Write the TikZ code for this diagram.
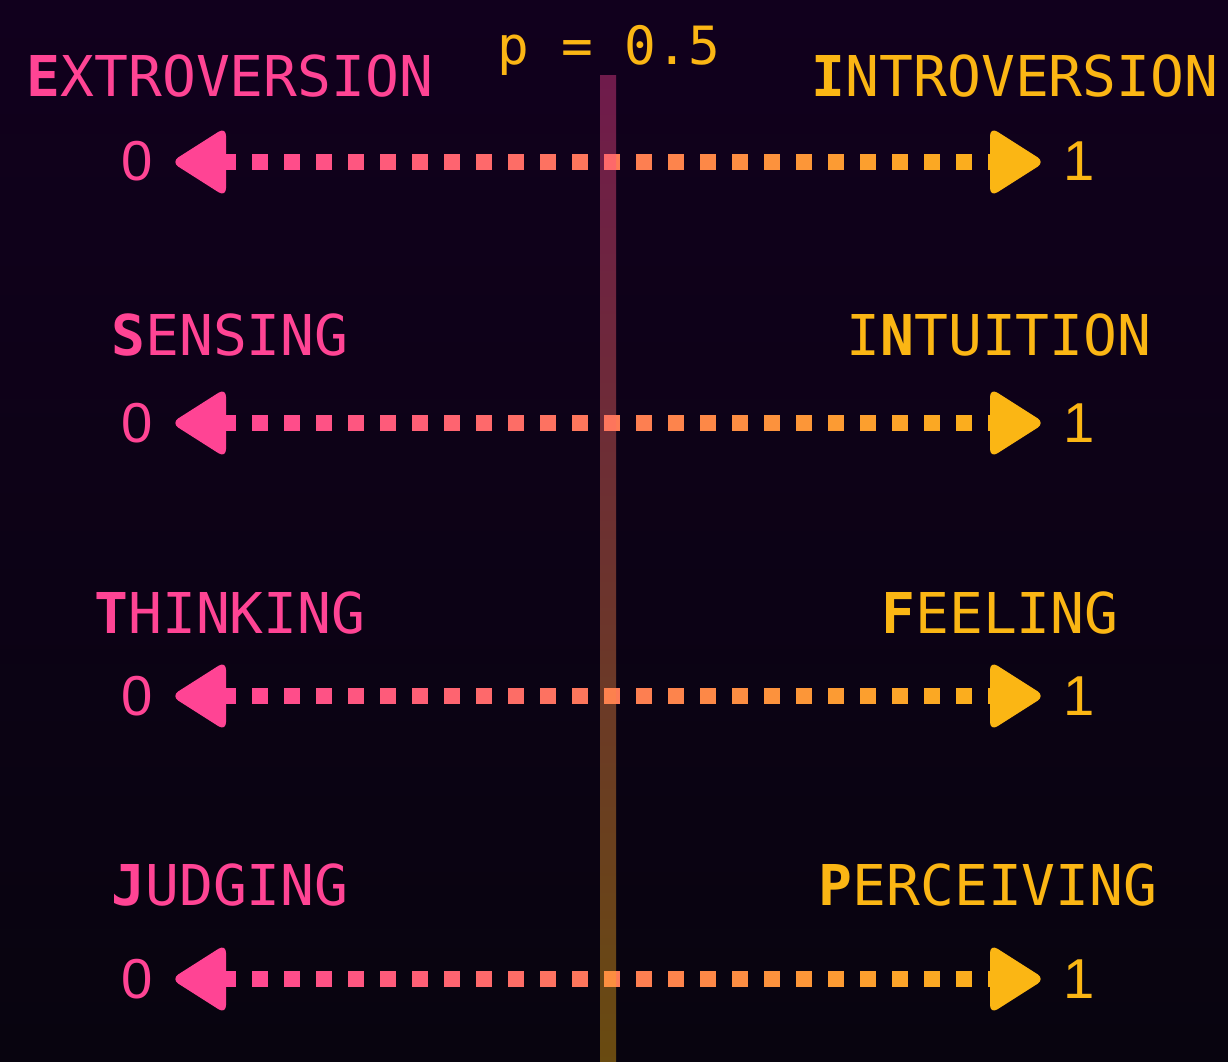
\documentclass[tikz,border=0pt]{standalone}
\usepackage{fontspec}
\usetikzlibrary{calc}
\newfontfamily\monofont{DejaVu Sans Mono}
\newfontfamily\numfont{Liberation Sans}
\definecolor{pinkc}{HTML}{FF4494}
\definecolor{yellowc}{HTML}{FBB614}
\definecolor{bgtop}{HTML}{11001D}
\definecolor{bgbot}{HTML}{08040F}

\begin{document}
\begin{tikzpicture}[x=0.01cm, y=-0.01cm,
    lefttxt/.style={text=pinkc, anchor=base, inner sep=0pt, font=\monofont\fontsize{16}{19}\selectfont},
    righttxt/.style={lefttxt, text=yellowc},
    endnum/.style={anchor=base, inner sep=0pt, font=\numfont\fontsize{16}{19}\selectfont}]

        % Background
        \shade[top color=bgtop, bottom color=bgbot] (0,0) rectangle (1228,1061);
        \useasboundingbox (0,0) rectangle (1228,1061);

        % Scales
        \foreach \y [count=\i] in {162,423,696,979} {
            \coordinate (l\i) at (224,\y);
            \coordinate (r\i) at (992,\y);
            % dotted line, pink to yellow
            \foreach \k in {0,...,24} {
                \pgfmathtruncatemacro\p{100-4*\k}
                \fill[pinkc!\p!yellowc] ($(l\i)+(-4+32*\k,-8)$) rectangle +(16,16);
            }
            % heads
            \fill[pinkc, rounded corners=2.5pt] ($(l\i)+(2,-35)$) -- ($(l\i)+(-53,0)$) -- ($(l\i)+(2,35)$) -- cycle;
            \fill[yellowc, rounded corners=2.5pt] ($(r\i)+(-2,-35)$) -- ($(r\i)+(53,0)$) -- ($(r\i)+(-2,35)$) -- cycle;
            \node[endnum, text=pinkc] (zero\i) at ($(l\i)+(-87,19)$) {0};
            \node[endnum, text=yellowc] (one\i) at ($(r\i)+(87,19)$) {1};
        }

        % Labels
        \node[lefttxt] (ext) at (230,97) {\textbf{E}XTROVERSION};
        \node[righttxt] (int) at (1015,97) {\textbf{I}NTROVERSION};
        \node[lefttxt] (sen) at (230,355) {\textbf{S}ENSING};
        \node[righttxt] (intu) at (999,355) {I\textbf{N}TUITION};
        \node[lefttxt] (thi) at (230,633) {\textbf{T}HINKING};
        \node[righttxt] (fee) at (1000,633) {\textbf{F}EELING};
        \node[lefttxt] (jud) at (230,905) {\textbf{J}UDGING};
        \node[righttxt] (per) at (988,905) {\textbf{P}ERCEIVING};

        % Threshold
        \node[righttxt, font=\monofont\fontsize{15}{18}\selectfont] (pval) at (609,65) {p = 0.5};
        \shade[top color=pinkc, bottom color=yellowc, opacity=0.4] (600,76) rectangle (616,1061);
    \end{tikzpicture}
\end{document}
